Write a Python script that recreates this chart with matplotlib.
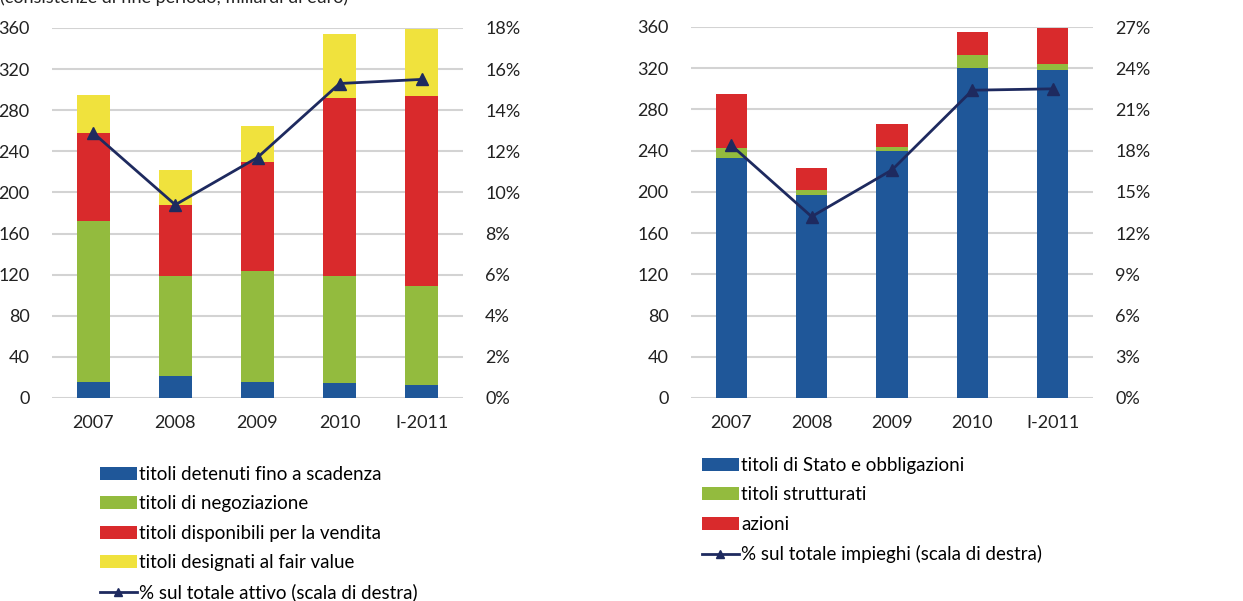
import matplotlib.pyplot as plt
from matplotlib.ticker import FuncFormatter

# dati (miliardi di euro)
anni = ['2007', '2008', '2009', '2010', 'I-2011']

# grafico di sinistra: portafoglio titoli per categoria IAS
detenuti = [16, 21, 16, 14.5, 12.5]
negoziazione = [156.5, 98, 108, 104.5, 96]
disponibili = [85.5, 68.5, 105.5, 173, 185]
fair_value = [37, 34.5, 35.5, 62.5, 65.5]
pct_attivo = [12.9, 9.4, 11.7, 15.3, 15.5]

# grafico di destra: portafoglio titoli per tipo di strumento
stato_obbl = [233, 197, 240, 320, 318]
strutturati = [10, 5, 3.5, 13, 6]
azioni = [52, 21, 22, 22, 35.5]
pct_impieghi = [18.4, 13.2, 16.6, 22.4, 22.5]

BLU = '#1F5799'
VERDE = '#93BB3E'
ROSSO = '#D92A2C'
GIALLO = '#F0E23D'
LINEA = '#1E2A5F'
GRIGLIA = '#D3D3D3'

plt.rcParams['font.family'] = ['Lato', 'DejaVu Sans']
plt.rcParams['font.size'] = 12

fig = plt.figure(figsize=(12.43, 6.01), dpi=100)
W, H = 1243, 601


def pannello(left, right, top, bottom, serie, colori, etichette, pct, pct_max, pct_step,
             label_linea, leg_x, leg_y, larghezza):
    ax = fig.add_axes([left / W, 1 - bottom / H, (right - left) / W, (bottom - top) / H])
    x = list(range(len(anni)))
    base = [0] * len(anni)
    handles = []
    for vals, col, lab in zip(serie, colori, etichette):
        b = ax.bar(x, vals, larghezza, bottom=base, color=col, label=lab, zorder=3)
        handles.append(b)
        base = [a + v for a, v in zip(base, vals)]
    ax.set_xlim(-0.5, len(anni) - 0.5)
    ax.set_ylim(0, 360)
    ax.set_yticks(range(0, 361, 40))
    ax.yaxis.grid(True, color=GRIGLIA, lw=1.5, zorder=0)
    ax.set_axisbelow(True)
    for s in ax.spines.values():
        s.set_visible(False)
    ax.tick_params(axis='both', length=0, labelsize=13, colors='#222222')
    ax.tick_params(axis='y', pad=16)
    ax.tick_params(axis='x', pad=12)
    ax.set_xticks(x)
    ax.set_xticklabels(anni)

    ax2 = ax.twinx()
    ln, = ax2.plot(x, pct, color=LINEA, lw=2, marker='^', markersize=8, label=label_linea, zorder=5)
    ax2.set_ylim(0, pct_max)
    ax2.set_yticks([i * pct_step for i in range(10)])
    ax2.yaxis.set_major_formatter(FuncFormatter(lambda v, p: '%d%%' % v))
    for s in ax2.spines.values():
        s.set_visible(False)
    ax2.tick_params(axis='y', length=0, labelsize=13, colors='#222222', pad=16)

    fig.legend(handles + [ln], etichette + [label_linea],
               loc='upper left', bbox_to_anchor=(leg_x / W, 1 - leg_y / H),
               frameon=False, fontsize=13.5, handlelength=1.95, handletextpad=0.15,
               labelspacing=0.66, borderaxespad=0, borderpad=0, markerscale=0.75)
    return ax


pannello(52, 463, 28, 398,
         [detenuti, negoziazione, disponibili, fair_value],
         [BLU, VERDE, ROSSO, GIALLO],
         ['titoli detenuti fino a scadenza', 'titoli di negoziazione',
          'titoli disponibili per la vendita', 'titoli designati al fair value'],
         pct_attivo, 18, 2, '% sul totale attivo (scala di destra)', 100, 466, 0.4)

pannello(691, 1093, 27, 398,
         [stato_obbl, strutturati, azioni],
         [BLU, VERDE, ROSSO],
         ['titoli di Stato e obbligazioni', 'titoli strutturati', 'azioni'],
         pct_impieghi, 27, 3, '% sul totale impieghi (scala di destra)', 702, 457, 0.39)

# sottotitolo tagliato in alto, come nell'originale
fig.text(0.0, 1 + 2 / H, '(consistenze di fine periodo; miliardi di euro)',
         fontsize=13, va='center', ha='left', color='#222222')

fig.savefig('out.png', dpi=100)
